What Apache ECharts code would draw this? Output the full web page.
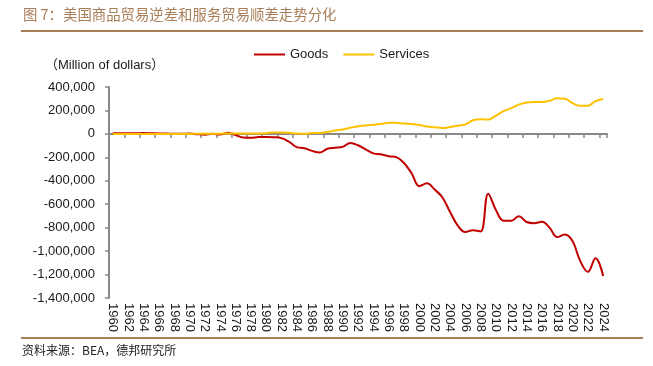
<!DOCTYPE html>
<html>
<head>
<meta charset="utf-8">
<script src="https://cdn.jsdelivr.net/npm/echarts@6/dist/echarts.min.js"></script>
<style>html,body{margin:0;padding:0;background:#fff;}#c{width:653px;height:366px;}</style>
</head>
<body>
<div id="c"></div>
<script>
var years = [];
for (var y = 1960; y <= 2024; y++) years.push(String(y));

var goods = [4892, 5571, 4521, 5224, 6801, 4951, 3817, 3800, 635, 607,
  2603, -2260, -6416, 911, -5505, 8903, -9483, -31091, -33927, -27568,
  -25500, -28023, -36485, -67102, -112492, -122173, -145081, -159557, -126959, -117749,
  -111037, -76937, -96897, -132451, -165831, -174170, -191000, -198428, -248221, -336382,
  -445787, -421980, -474491, -540409, -663507, -780730, -837289, -821196, -832492, -509694,
  -648678, -740646, -741119, -702244, -751532, -761868, -749801, -799343, -880302, -857259,
  -913950, -1083514, -1177000, -1061537, -1211720];

var services = [-1385, -1382, -1150, -1021, -1164, -1159, -1320, -1656, -1301, -1513,
  -349, 957, 973, 989, 1213, 3501, 3401, 3845, 4164, 3003,
  6093, 11852, 12329, 9335, 3419, 294, 6543, 7874, 16000, 28000,
  38000, 52000, 66000, 72000, 78000, 85000, 94000, 95000, 88000, 84000,
  76000, 64000, 57000, 50000, 58000, 70000, 80000, 116000, 124000, 122000,
  155000, 194000, 220000, 250000, 268000, 272000, 272000, 282000, 303000, 300000,
  262000, 240000, 240000, 280000, 298000];

var yTicks = {min: -1400000, max: 400000, interval: 200000};

var brown = '#a87e58';
var axisGray = '#888888';
var fontLatin = '"Liberation Sans", Arial, sans-serif';
var fontCJK = '"Noto Sans CJK SC", sans-serif';

var chart = echarts.init(document.getElementById('c'), null, {renderer: 'canvas'});
chart.setOption({
  animation: false,
  backgroundColor: '#ffffff',
  grid: {left: 109, right: 46, top: 87, bottom: 68, containLabel: false},
  legend: {
    left: 249, top: 43, itemWidth: 31, itemHeight: 2, itemGap: 15, icon: 'rect',
    textStyle: {fontFamily: fontLatin, fontSize: 13, color: '#1a1a1a'},
    data: ['Goods', 'Services']
  },
  graphic: [
    {type: 'text', left: 23, top: 7, style: {text: '图 7：美国商品贸易逆差和服务贸易顺差走势分化', fontFamily: fontCJK, fontSize: 14.4, fill: brown}},
    {type: 'rect', shape: {x: 21, y: 30, width: 622, height: 2}, style: {fill: brown}},
    {type: 'rect', shape: {x: 21, y: 337, width: 622, height: 2}, style: {fill: brown}},
    {type: 'text', left: 22, top: 344, style: {text: '资料来源：BEA，德邦研究所', fontFamily: fontCJK, fontSize: 12, fill: '#222'}},
    {type: 'text', left: 45, top: 59, style: {text: '（Million of dollars）', fontFamily: fontLatin + ',' + fontCJK, fontSize: 13, fill: '#1a1a1a'}}
  ],
  xAxis: [
    {
      type: 'category', data: years, boundaryGap: true, position: 'bottom',
      axisLine: {show: false, onZero: false}, axisTick: {show: false},
      axisLabel: {interval: 1, rotate: -90, margin: 5, fontFamily: fontLatin, fontSize: 13, color: '#1a1a1a'},
      splitLine: {show: false}
    },
    {
      type: 'category', data: years, boundaryGap: true, position: 'bottom',
      axisLine: {show: true, onZero: true, lineStyle: {color: axisGray, width: 2}},
      axisTick: {show: true, interval: 1, length: 4, lineStyle: {color: axisGray, width: 1.5}},
      axisLabel: {show: false}, splitLine: {show: false}
    }
  ],
  yAxis: {
    type: 'value', min: yTicks.min, max: yTicks.max, interval: yTicks.interval,
    axisLine: {show: true, lineStyle: {color: axisGray, width: 2}},
    axisTick: {show: true, length: 4, lineStyle: {color: axisGray, width: 1.5}},
    splitLine: {show: false},
    axisLabel: {margin: 14, fontFamily: fontLatin, fontSize: 13, color: '#1a1a1a',
      formatter: function (v) { return v === 0 ? '0' : v.toLocaleString('en-US'); }}
  },
  series: [
    {name: 'Goods', type: 'line', data: goods, xAxisIndex: 0, symbol: 'none', smooth: 0.4,
      lineStyle: {color: '#c00000', width: 2}, itemStyle: {color: '#c00000'}},
    {name: 'Services', type: 'line', data: services, xAxisIndex: 0, symbol: 'none', smooth: 0.4,
      lineStyle: {color: '#ffc000', width: 2}, itemStyle: {color: '#ffc000'}}
  ]
});
</script>
</body>
</html>
